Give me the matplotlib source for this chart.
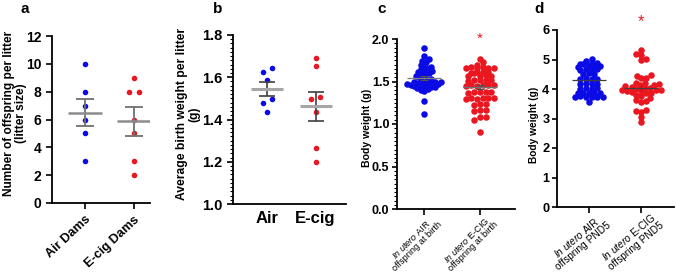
import numpy as np
import matplotlib
matplotlib.use("Agg")
import matplotlib.pyplot as plt
from matplotlib.transforms import ScaledTranslation

plt.rcParams['font.family'] = ['Liberation Sans', 'DejaVu Sans']
plt.rcParams['mathtext.fontset'] = 'custom'
plt.rcParams['mathtext.rm'] = 'Liberation Sans'
plt.rcParams['mathtext.it'] = 'Liberation Sans:italic'

# ---------------- data ----------------
a_categories = ["Air Dams", "E-cig Dams"]
a_air = [10, 8, 7, 6, 5, 3]
a_ecig = [9, 8, 8, 6, 5, 3, 2]
a_yticks = [0, 2, 4, 6, 8, 10, 12]

b_categories = ["Air", "E-cig"]
b_air = [1.626, 1.642, 1.587, 1.498, 1.479, 1.437]
b_ecig = [1.690, 1.653, 1.505, 1.495, 1.434, 1.263, 1.200]
b_yticks = [1.0, 1.2, 1.4, 1.6, 1.8]

c_categories = [r"$\it{In\ utero}$ AIR" + "\noffspring at birth",
                r"$\it{In\ utero}$ E-CIG" + "\noffspring at birth"]
c_air = [1.89, 1.80, 1.76, 1.74, 1.73, 1.70, 1.69, 1.67, 1.66, 1.65,
         1.63, 1.62, 1.61, 1.60, 1.59, 1.58, 1.56, 1.55, 1.54, 1.53,
         1.52, 1.51, 1.50, 1.50, 1.49, 1.49, 1.48, 1.48, 1.47, 1.47,
         1.46, 1.46, 1.45, 1.45, 1.44, 1.44, 1.43, 1.42, 1.41, 1.40,
         1.39, 1.27, 1.12]
c_ecig = [1.76, 1.73, 1.70,
          1.665, 1.665, 1.66, 1.66, 1.66, 1.655,
          1.615, 1.61, 1.61, 1.605, 1.60,
          1.575, 1.57, 1.57, 1.565,
          1.52, 1.52, 1.515, 1.515, 1.51,
          1.46, 1.46, 1.455, 1.455, 1.45, 1.45,
          1.38, 1.38, 1.375, 1.375, 1.37,
          1.31, 1.31, 1.305, 1.305, 1.30, 1.30,
          1.23, 1.23, 1.225,
          1.16, 1.16, 1.155,
          1.08, 1.08, 1.05, 0.91]
c_yticks = [0.0, 0.5, 1.0, 1.5, 2.0]

d_categories = [r"$\it{In\ utero}$ AIR" + "\noffspring PND5",
                r"$\it{In\ utero}$ E-CIG" + "\noffspring PND5"]
d_air = [5.02, 4.96, 4.90, 4.88, 4.86, 4.85, 4.84, 4.83, 4.78, 4.77,
         4.76, 4.69, 4.68, 4.67, 4.66, 4.53, 4.52, 4.51, 4.36, 4.35,
         4.34, 4.33, 4.19, 4.18, 4.17, 4.16, 4.03, 4.02, 4.01, 4.00,
         3.88, 3.87, 3.86, 3.86, 3.85, 3.75, 3.74, 3.74, 3.73, 3.73,
         3.72, 3.57]
d_ecig = [5.32, 5.18, 5.14, 5.02, 4.97, 4.47, 4.45, 4.38, 4.36, 4.22,
          4.20, 4.18, 4.15, 4.12, 4.10, 4.08, 4.05, 4.03, 4.00, 3.98,
          3.96, 3.95, 3.94, 3.92, 3.90, 3.88, 3.85, 3.80, 3.75, 3.70,
          3.62, 3.58, 3.55, 3.30, 3.25, 3.22, 3.05, 2.88]
d_yticks = [0, 1, 2, 3, 4, 5, 6]

BLUE = '#0b0be6'
RED = '#ea1620'

W, H = 676, 275
fig = plt.figure(figsize=(W / 100, H / 100), dpi=100)


def make_ax(l, r, t, b):
    ax = fig.add_axes([l / W, 1 - b / H, (r - l) / W, (b - t) / H])
    for s in ['top', 'right']:
        ax.spines[s].set_visible(False)
    for s in ['left', 'bottom']:
        ax.spines[s].set_linewidth(1.3)
    ax.tick_params(axis='both', direction='out', length=4, width=1.2)
    return ax


def set_ylabel(ax, text, size, xfrac, yfrac):
    ax.set_ylabel(text, fontsize=size, fontweight='bold', linespacing=1.0)
    ax.yaxis.label.set_va('center')
    ax.yaxis.set_label_coords(xfrac, yfrac)


def shift_xlabels(ax, dx_px, dy_px):
    off = ScaledTranslation(dx_px / 100, dy_px / 100, fig.dpi_scale_trans)
    for lbl in ax.get_xticklabels():
        lbl.set_transform(lbl.get_transform() + off)


def rows_x(ax, x0, vals, bin_px, step_px):
    vals = np.asarray(vals, float)
    pts = ax.transData.transform(np.column_stack([np.full(len(vals), x0), vals]))
    xpx, ypx = pts[:, 0], pts[:, 1]
    order = np.argsort(ypx, kind='stable')
    rows, cur, start = [], [order[0]], ypx[order[0]]
    for i in order[1:]:
        if ypx[i] - start < bin_px:
            cur.append(i)
        else:
            rows.append(cur)
            cur, start = [i], ypx[i]
    rows.append(cur)
    newx = xpx.copy()
    for r in rows:
        n = len(r)
        idx = list(range(n))
        perm = idx[::2] + idx[1::2][::-1]
        for k, i in zip(perm, r):
            newx[i] = xpx[i] + (k - (n - 1) / 2) * step_px
    back = ax.transData.inverted().transform(np.column_stack([newx, ypx]))
    return back[:, 0]


def swarm_x(ax, x0, vals, min_d):
    vals = np.asarray(vals, float)
    pts = ax.transData.transform(np.column_stack([np.full(len(vals), x0), vals]))
    xpx, ypx = pts[:, 0], pts[:, 1]
    order = np.argsort(ypx, kind='stable')
    placed = []
    newx = xpx.copy()
    for n_done, i in enumerate(order):
        y = ypx[i]
        best = None
        k = 0
        signs = (1, -1) if n_done % 2 == 0 else (-1, 1)
        while best is None:
            cands = [0.0] if k == 0 else [s * k * 0.5 for s in signs]
            for off in cands:
                if all((off - px) ** 2 + (y - py) ** 2 >= min_d ** 2 for px, py in placed):
                    best = off
                    break
            k += 1
        placed.append((best, y))
        newx[i] = xpx[i] + best
    back = ax.transData.inverted().transform(np.column_stack([newx, ypx]))
    return back[:, 0]


def draw_group(ax, x0, vals, color, ms, layout, lay_args, mean_w, cap,
               mean_c, mean_lw, err_c, err_lw):
    xs = layout(ax, x0, vals, *lay_args)
    ax.scatter(xs, vals, s=ms, color=color, linewidths=0, zorder=3, clip_on=False)
    v = np.asarray(vals, float)
    m = v.mean()
    sem = v.std(ddof=1) / np.sqrt(len(v))
    ax.errorbar([x0], [m], yerr=[sem], fmt='none', ecolor=err_c, elinewidth=err_lw,
                capsize=cap, capthick=err_lw, zorder=4)
    ax.hlines(m, x0 - mean_w, x0 + mean_w, color=mean_c, lw=mean_lw, zorder=4)


def bold_ticks(ax, size, pad=3.5, length=4):
    ax.tick_params(axis='y', labelsize=size, pad=pad, length=length)
    for lbl in ax.get_yticklabels():
        lbl.set_fontweight('bold')


# ---------------- panel a ----------------
ax = make_ax(52, 150, 36, 203)
ax.set_xlim(-0.673, 1.327)
ax.set_ylim(0, 12)
ax.set_yticks(a_yticks)
ax.set_xticks([0, 1])
ax.set_xticklabels(a_categories, rotation=43, ha='right', rotation_mode='anchor',
                   fontsize=9.2, fontweight='bold')
bold_ticks(ax, 10)
set_ylabel(ax, "Number of offspring per litter\n(litter size)", 8.6, -0.375, 0.535)
draw_group(ax, 0, a_air, BLUE, 16, rows_x, (5, 10), 0.35, 6.5, '#8c8c8c', 1.8, '#707070', 1.3)
draw_group(ax, 1, a_ecig, RED, 16, rows_x, (5, 10), 0.35, 6.5, '#8c8c8c', 1.8, '#707070', 1.3)

# ---------------- panel b ----------------
ax = make_ax(233, 346, 35, 204)
ax.set_xlim(-0.71, 1.63)
ax.set_ylim(1.0, 1.8)
ax.set_yticks(b_yticks)
ax.set_yticklabels([f"{t:.1f}" for t in b_yticks])
ax.yaxis.set_minor_locator(matplotlib.ticker.MultipleLocator(0.02))
ax.tick_params(axis='y', which='minor', length=2, width=0.8)
ax.set_xticks([0, 1])
ax.set_xticklabels(b_categories, fontsize=12, fontweight='bold')
ax.tick_params(axis='x', length=0, pad=5)
bold_ticks(ax, 10.5)
set_ylabel(ax, "Average birth weight per litter\n(g)", 8.7, -0.395, 0.53)
draw_group(ax, 0, b_air, BLUE, 16, rows_x, (5, 9), 0.33, 5.8, '#a6a6a6', 2.2, '#404040', 1.2)
draw_group(ax, 1, b_ecig, RED, 16, rows_x, (5, 9), 0.33, 5.8, '#a6a6a6', 2.2, '#404040', 1.2)

# ---------------- panel c ----------------
ax = make_ax(397, 515, 39, 209)
ax.set_xlim(-0.485, 1.63)
ax.set_ylim(0, 2.0)
ax.set_yticks(c_yticks)
ax.set_yticklabels([f"{t:.1f}" for t in c_yticks])
ax.yaxis.set_minor_locator(matplotlib.ticker.MultipleLocator(0.05))
ax.tick_params(axis='y', which='minor', length=2, width=0.8)
ax.set_xticks([0, 1])
ax.set_xticklabels(c_categories, rotation=45, ha='right', rotation_mode='anchor',
                   fontsize=6.6, multialignment='center', linespacing=1.0)
ax.tick_params(axis='x', pad=0)
shift_xlabels(ax, 6, 2)
bold_ticks(ax, 9, pad=2, length=3.5)
set_ylabel(ax, "Body weight (g)", 7.6, -0.255, 0.476)
draw_group(ax, 0, c_air, BLUE, 22, swarm_x, (3.6,), 0.3, 3, '#808080', 1.0, '#505050', 0.8)
draw_group(ax, 1, c_ecig, RED, 22, rows_x, (3, 5.7), 0.3, 3, '#707070', 1.0, '#505050', 0.8)
ax.text(1, 2.0, '*', color=RED, fontsize=11, ha='center', va='center', clip_on=False)

# ---------------- panel d ----------------
ax = make_ax(557, 674, 30, 207)
ax.set_xlim(-0.61, 1.63)
ax.set_ylim(0, 6)
ax.set_yticks(d_yticks)
ax.set_xticks([0, 1])
ax.set_xticklabels(d_categories, rotation=40, ha='right', rotation_mode='anchor',
                   fontsize=7.3, multialignment='center', linespacing=1.0)
ax.tick_params(axis='x', pad=0)
shift_xlabels(ax, 10, 2)
bold_ticks(ax, 9.2, pad=2, length=3.5)
set_ylabel(ax, "Body weight (g)", 7.3, -0.2, 0.463)
draw_group(ax, 0, d_air, BLUE, 22, rows_x, (2.6, 5.6), 0.33, 0, '#404040', 0.9, '#404040', 0.8)
draw_group(ax, 1, d_ecig, RED, 22, swarm_x, (5.0,), 0.33, 0, '#404040', 0.9, '#404040', 0.8)
ax.text(1, 6.27, '*', color=RED, fontsize=12, ha='center', va='center', clip_on=False)

# panel letters
for lab, x, y in [('a', 25, 9), ('b', 218, 9), ('c', 382, 9), ('d', 539, 9)]:
    fig.text(x / W, 1 - y / H, lab, fontsize=11, fontweight='bold', ha='center', va='center')

fig.savefig('out.png', dpi=100)
